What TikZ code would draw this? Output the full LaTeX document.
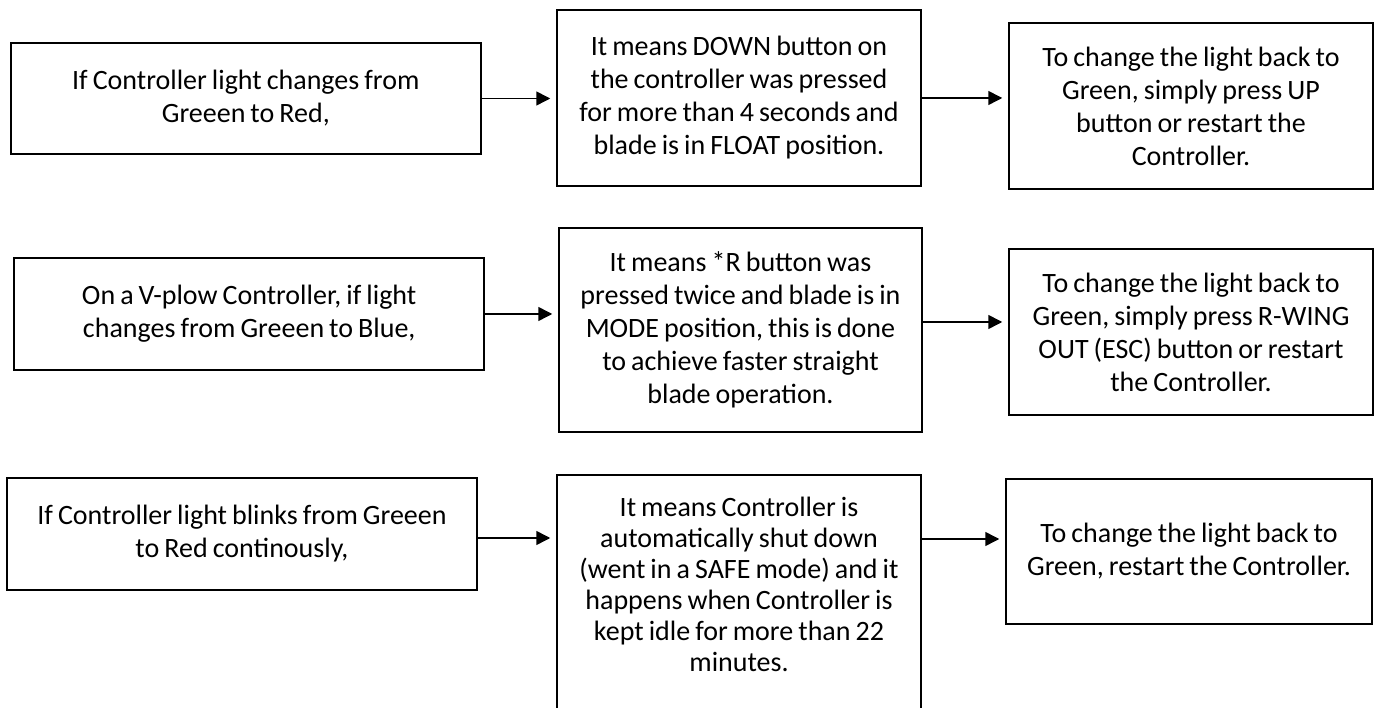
\documentclass[tikz,border=0pt]{standalone}
\usepackage{fontspec}
\setmainfont{Carlito}[WordSpace=0.8]
\usetikzlibrary{arrows.meta}

\begin{document}
\begin{tikzpicture}[x=1pt,y=1pt,
    box/.style={draw,line width=1.5pt,inner sep=0pt,align=center,
                font=\fontsize{28}{33}\selectfont},
    link/.style={line width=1.5pt,-{Triangle[length=14pt,width=14pt]},shorten >=6pt}]
\useasboundingbox (0,0) rectangle (1378,707);
% first row
\node[box,minimum width=470pt,minimum height=111pt] (if1) at (245.8,608.5)
    {If Controller light changes from\\Greeen to Red,};
\node[box,minimum width=364pt,minimum height=176pt] (means1) at (739,609)
    {It means DOWN button on\\the controller was pressed\\for more than 4 seconds and\\blade is in FLOAT position.};
\node[box,minimum width=364pt,minimum height=166pt] (fix1) at (1191,601)
    {To change the light back to\\Green, simply press UP\\button or restart the\\Controller.};
% second row
\node[box,minimum width=470pt,minimum height=112pt] (if2) at (249.2,393)
    {On a V-plow Controller, if light\\changes from Greeen to Blue,};
\node[box,minimum width=363pt,minimum height=204pt] (means2) at (740.5,377)
    {It means *R button was\\pressed twice and blade is in\\MODE position, this is done\\to achieve faster straight\\blade operation.};
\node[box,minimum width=364pt,minimum height=166pt] (fix2) at (1191,375)
    {To change the light back to\\Green, simply press R-WING\\OUT (ESC) button or restart\\the Controller.};
% third row
\node[box,minimum width=470pt,minimum height=112pt] (if3) at (242,173)
    {If Controller light blinks from Greeen\\to Red continously,};
\node[box,minimum width=364pt,text height=196pt,text depth=69pt,
      font=\fontsize{28}{31}\selectfont] (means3) at (739,99.5)
    {It means Controller is\\automatically shut down\\(went in a SAFE mode) and it\\happens when Controller is\\kept idle for more than 22\\minutes.};
\node[box,minimum width=366pt,minimum height=145pt] (fix3) at (1189,155.5)
    {To change the light back to\\Green, restart the Controller.};
% arrows
\draw[link] (if1.east) -- (if1.east -| means1.west);
\draw[link] (means1.east) -- (means1.east -| fix1.west);
\draw[link] (if2.east) -- (if2.east -| means2.west);
\draw[link] ([yshift=8pt]means2.east) -- ([yshift=8pt]means2.east -| fix2.west);
\draw[link] ([yshift=-4pt]if3.east) -- ([yshift=-4pt]if3.east -| means3.west);
\draw[link] ([yshift=-5pt]if3.east -| means3.east) -- ([yshift=-5pt]if3.east -| fix3.west);
\end{tikzpicture}
\end{document}
